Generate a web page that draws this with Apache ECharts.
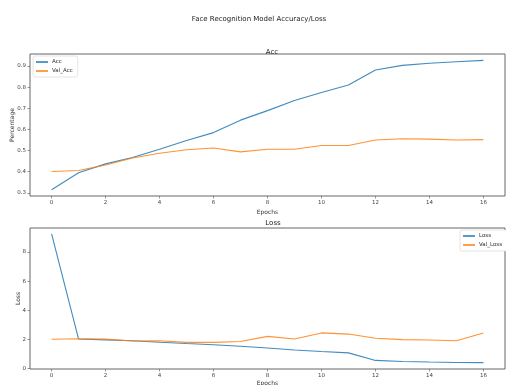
<!DOCTYPE html>
<html>
<head>
<meta charset="utf-8">
<script src="https://cdn.jsdelivr.net/npm/echarts@6/dist/echarts.min.js"></script>
<style>html,body{margin:0;padding:0;background:#fff}#c{width:506px;height:385px}</style>
</head>
<body>
<div id="c"></div>
<script>
var epochs = [0,1,2,3,4,5,6,7,8,9,10,11,12,13,14,15,16];
var acc = [0.315,0.395,0.437,0.467,0.506,0.548,0.585,0.644,0.689,0.737,0.775,0.81,0.881,0.903,0.913,0.92,0.927];
var valAcc = [0.401,0.406,0.432,0.465,0.487,0.504,0.512,0.494,0.506,0.506,0.524,0.524,0.55,0.556,0.554,0.55,0.552];
var loss = [9.25,2.02,1.96,1.9,1.8,1.71,1.63,1.52,1.4,1.27,1.16,1.07,0.55,0.48,0.44,0.41,0.4];
var valLoss = [2.0,2.04,2.01,1.88,1.9,1.79,1.79,1.85,2.2,2.02,2.44,2.36,2.07,1.98,1.95,1.9,2.44];
var xTicks = [0,2,4,6,8,10,12,14,16];
var accTicks = [0.3,0.4,0.5,0.6,0.7,0.8,0.9];
var lossTicks = [0,2,4,6,8];

var font = 'DejaVu Sans';
var blue = '#1f77b4', orange = '#ff7f0e';
function pair(a,b){ return a.map(function(v,i){ return [v,b[i]]; }); }
function xAx(idx,gap){
  return {
    type:'value', gridIndex:idx, min:-0.8, max:16.8, position:'bottom',
    name:'Epochs', nameLocation:'middle', nameGap:gap, nameMoveOverlap:false,
    nameTextStyle:{fontFamily:font,fontSize:6,color:'#333'},
    axisLine:{show:false,onZero:false}, splitLine:{show:false},
    axisTick:{show:true,length:2.5,lineStyle:{color:'#555',width:0.6},customValues:xTicks},
    axisLabel:{fontFamily:font,fontSize:5.5,color:'#444',margin:4,customValues:xTicks,formatter:function(v){return String(v);}}
  };
}
function yAx(idx,min,max,ticks,name,fmt,gap){
  return {
    type:'value', gridIndex:idx, min:min, max:max, position:'left',
    name:name, nameLocation:'middle', nameGap:gap, nameRotate:90, nameMoveOverlap:false,
    nameTextStyle:{fontFamily:font,fontSize:6,color:'#333'},
    axisLine:{show:false,onZero:false}, splitLine:{show:false},
    axisTick:{show:true,length:2.5,lineStyle:{color:'#555',width:0.6},customValues:ticks},
    axisLabel:{fontFamily:font,fontSize:5.5,color:'#444',margin:4,customValues:ticks,formatter:fmt}
  };
}
var ls = function(c){ return {color:c,width:1.1,opacity:0.85}; };
var option = {
  animation:false,
  backgroundColor:'#fff',
  title:[
    {text:'Face Recognition Model Accuracy/Loss',left:254,top:11,textAlign:'center',textStyle:{fontFamily:font,fontSize:7,fontWeight:'normal',color:'#222'}},
    {text:'Acc',left:267,top:44,textAlign:'center',textStyle:{fontFamily:font,fontSize:7,fontWeight:'normal',color:'#222'}},
    {text:'Loss',left:268,top:215,textAlign:'center',textStyle:{fontFamily:font,fontSize:7,fontWeight:'normal',color:'#222'}}
  ],
  grid:[
    {left:30,top:54,width:475,height:142,show:true,borderColor:'#666',borderWidth:1,backgroundColor:'transparent',containLabel:false,outerBoundsMode:'none'},
    {left:30,top:228,width:475,height:141,show:true,borderColor:'#666',borderWidth:1,backgroundColor:'transparent',containLabel:false,outerBoundsMode:'none'}
  ],
  xAxis:[xAx(0,13),xAx(1,11)],
  yAxis:[
    yAx(0,0.285,0.957,accTicks,'Percentage',function(v){return v.toFixed(1);},15),
    yAx(1,-0.04,9.65,lossTicks,'Loss',function(v){return String(v);},9)
  ],
  legend:[
    {data:['Acc','Val_Acc'],orient:'vertical',left:33,top:56,itemWidth:12,itemHeight:1.5,itemGap:3,padding:[3,5,3,3],
     backgroundColor:'#fff',borderColor:'#ddd',borderWidth:0.8,borderRadius:2,icon:'rect',
     textStyle:{fontFamily:font,fontSize:5.5,color:'#333',padding:[0,0,0,-1]}},
    {data:['Loss','Val_Loss'],orient:'vertical',left:460,top:230,itemWidth:12,itemHeight:1.5,itemGap:3,padding:[3,5,3,3],
     backgroundColor:'#fff',borderColor:'#ddd',borderWidth:0.8,borderRadius:2,icon:'rect',
     textStyle:{fontFamily:font,fontSize:5.5,color:'#333',padding:[0,0,0,-1]}}
  ],
  series:[
    {name:'Acc',type:'line',xAxisIndex:0,yAxisIndex:0,data:pair(epochs,acc),showSymbol:false,lineStyle:ls(blue),itemStyle:{color:blue}},
    {name:'Val_Acc',type:'line',xAxisIndex:0,yAxisIndex:0,data:pair(epochs,valAcc),showSymbol:false,lineStyle:ls(orange),itemStyle:{color:orange}},
    {name:'Loss',type:'line',xAxisIndex:1,yAxisIndex:1,data:pair(epochs,loss),showSymbol:false,lineStyle:ls(blue),itemStyle:{color:blue}},
    {name:'Val_Loss',type:'line',xAxisIndex:1,yAxisIndex:1,data:pair(epochs,valLoss),showSymbol:false,lineStyle:ls(orange),itemStyle:{color:orange}}
  ]
};
var chart = echarts.init(document.getElementById('c'),null,{renderer:'canvas'});
chart.setOption(option);
</script>
</body>
</html>
